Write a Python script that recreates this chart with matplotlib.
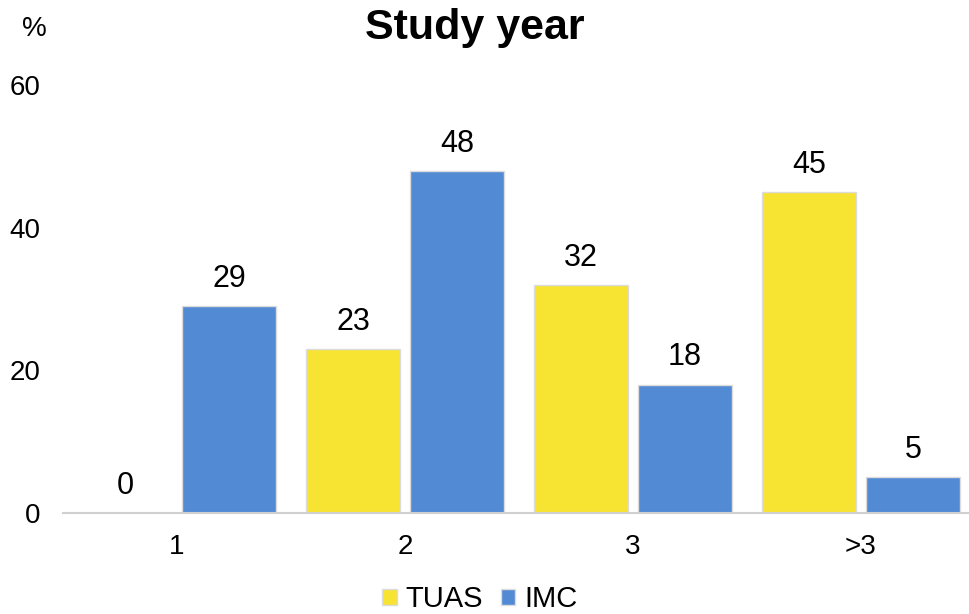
import matplotlib.pyplot as plt
import numpy as np

plt.rcParams['font.family'] = ['Liberation Sans', 'DejaVu Sans']

# data
categories = ['1', '2', '3', '>3']
tuas = [0, 23, 32, 45]
imc = [29, 48, 18, 5]
yticks = [0, 20, 40, 60]

col_tuas = '#F7E331'
col_imc = '#528AD3'

fig = plt.figure(figsize=(9.7, 6.14), dpi=100)
ax = fig.add_axes([0.065, 0.1645, 0.94, 0.697])

x = np.arange(len(categories))
w = 0.415
off = 0.228

b1 = ax.bar(x - off, tuas, w, color=col_tuas, edgecolor='#dcdcdc', linewidth=1, label='TUAS')
b2 = ax.bar(x + off, imc, w, color=col_imc, edgecolor='#dcdcdc', linewidth=1, label='IMC')

for bars, vals in ((b1, tuas), (b2, imc)):
    for r, v in zip(bars, vals):
        ax.text(r.get_x() + r.get_width() / 2, v + 1.7, str(v),
                ha='center', va='bottom', fontsize=22)

ax.set_xlim(-0.5, len(categories) - 0.5)
ax.set_ylim(0, 60)
ax.set_xticks(x)
ax.set_xticklabels(categories, fontsize=20)
ax.set_yticks(yticks)
ax.set_yticklabels([str(t) for t in yticks], fontsize=20)
ax.tick_params(axis='both', length=0)
ax.tick_params(axis='x', pad=15)
ax.tick_params(axis='y', pad=16)

for s in ['top', 'right', 'left']:
    ax.spines[s].set_visible(False)
ax.spines['bottom'].set_color('#d0d0d0')
ax.spines['bottom'].set_linewidth(1.5)

fig.text(0.49, 0.955, 'Study year', ha='center', va='center', fontsize=31, fontweight='bold')
fig.text(0.035, 0.952, '%', ha='center', va='center', fontsize=20)

ax.legend(loc='upper center', bbox_to_anchor=(0.457, -0.108), ncol=2, frameon=False,
          fontsize=21, handlelength=0.5, handleheight=0.5, handletextpad=0.3, columnspacing=0.6)

fig.savefig('out.png', dpi=100)
